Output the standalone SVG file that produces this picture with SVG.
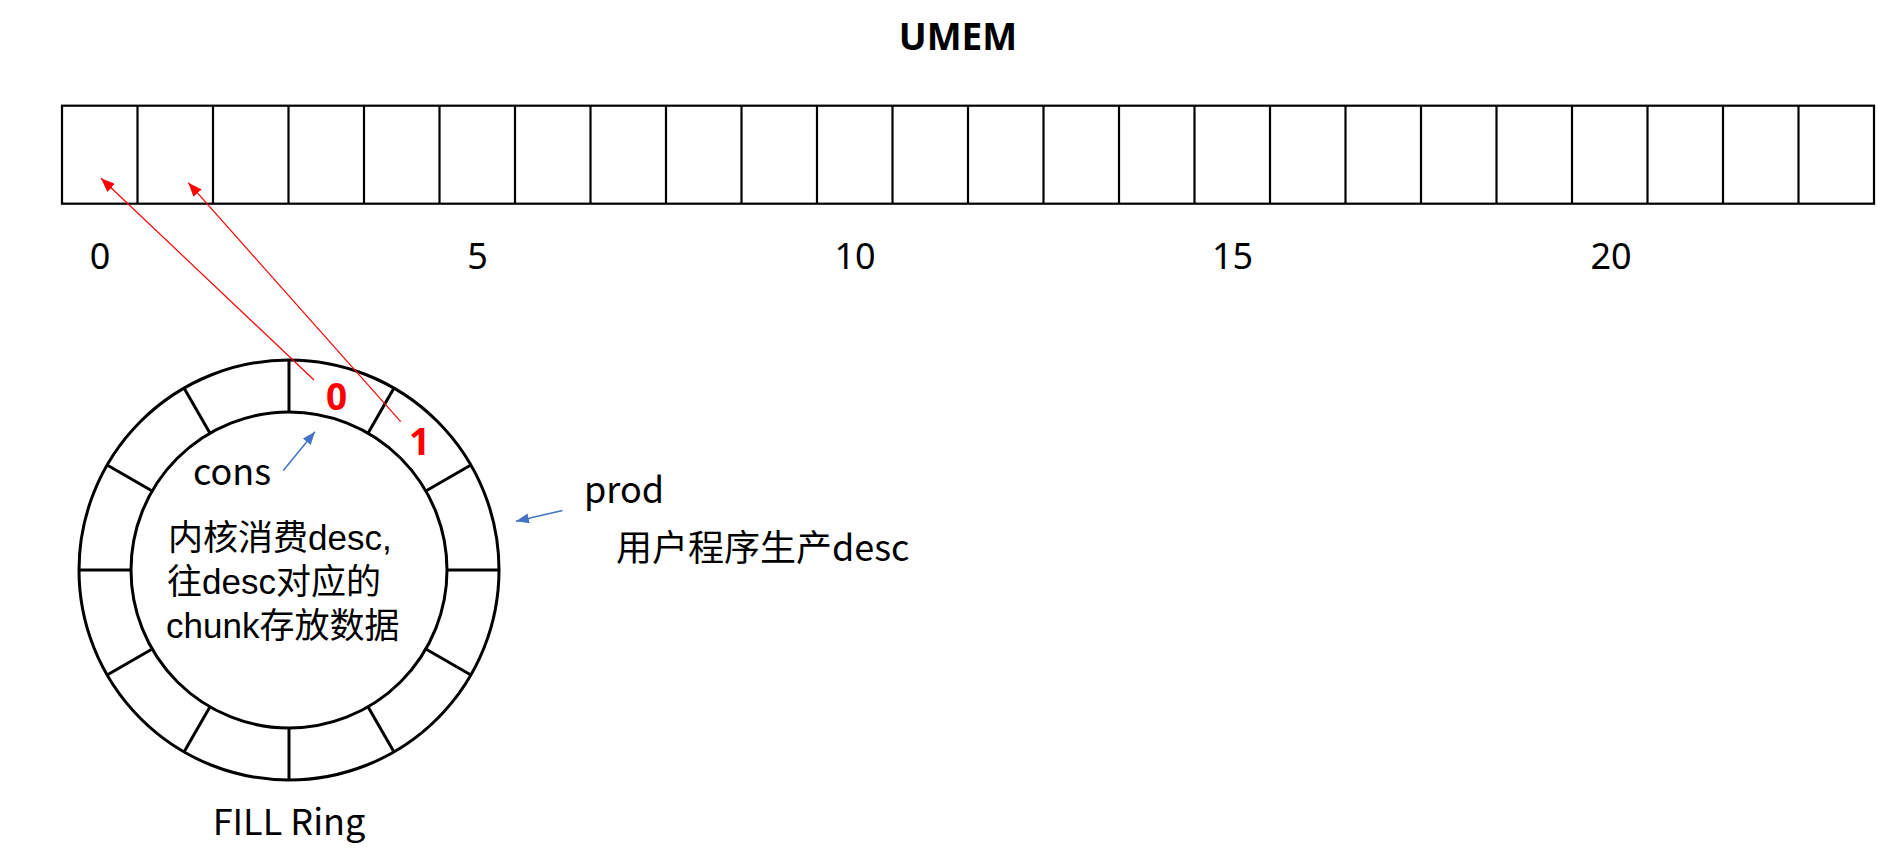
<svg xmlns="http://www.w3.org/2000/svg" width="1877" height="867" viewBox="0 0 1877 867">
<style>
  text { font-family: "Noto Sans", "Noto Sans CJK SC", sans-serif; fill: #000; }
  .cjk { font-family: "Noto Sans CJK SC", "Noto Sans", sans-serif; font-size: 36px; }
  .inner { font-family: "Liberation Sans", "Noto Sans CJK SC", sans-serif; font-size: 35px; }
  .idx { font-size: 36px; text-anchor: middle; }
  .title { font-size: 37px; font-weight: bold; text-anchor: middle; }
  .cell { fill: #fff; stroke: #000; stroke-width: 2.2; }
  .div { stroke: #000; stroke-width: 2.2; }
  .ring { fill: #fff; stroke: #000; stroke-width: 3; }
  .spoke { stroke: #000; stroke-width: 3; }
  .red { font-size: 37px; font-weight: bold; fill: #ff0000; text-anchor: middle; }
  .redline { stroke: #ff0000; stroke-width: 1.2; fill: none; }
  .blueline { stroke: #4472c4; stroke-width: 1.5; fill: none; }
</style>
<defs>
  <marker id="arrRed" markerUnits="userSpaceOnUse" markerWidth="15" markerHeight="11" refX="14" refY="5.5" orient="auto">
    <path d="M0,0 L14,5.5 L0,11 z" fill="#ff0000"/>
  </marker>
  <marker id="arrBlue" markerUnits="userSpaceOnUse" markerWidth="14" markerHeight="10" refX="13" refY="5" orient="auto">
    <path d="M0,0 L13,5 L0,10 z" fill="#4472c4"/>
  </marker>
</defs>
<rect width="1877" height="867" fill="#fff"/>

<g id="umem-title">
  <text class="title" x="958" y="50">UMEM</text>
</g>

<g id="umem">
  <rect class="cell" x="62" y="105.7" width="1812" height="98"/>
  <g class="div">
    <line x1="137.5" y1="105.7" x2="137.5" y2="203.7"/>
    <line x1="213" y1="105.7" x2="213" y2="203.7"/>
    <line x1="288.5" y1="105.7" x2="288.5" y2="203.7"/>
    <line x1="364" y1="105.7" x2="364" y2="203.7"/>
    <line x1="439.5" y1="105.7" x2="439.5" y2="203.7"/>
    <line x1="515" y1="105.7" x2="515" y2="203.7"/>
    <line x1="590.5" y1="105.7" x2="590.5" y2="203.7"/>
    <line x1="666" y1="105.7" x2="666" y2="203.7"/>
    <line x1="741.5" y1="105.7" x2="741.5" y2="203.7"/>
    <line x1="817" y1="105.7" x2="817" y2="203.7"/>
    <line x1="892.5" y1="105.7" x2="892.5" y2="203.7"/>
    <line x1="968" y1="105.7" x2="968" y2="203.7"/>
    <line x1="1043.5" y1="105.7" x2="1043.5" y2="203.7"/>
    <line x1="1119" y1="105.7" x2="1119" y2="203.7"/>
    <line x1="1194.5" y1="105.7" x2="1194.5" y2="203.7"/>
    <line x1="1270" y1="105.7" x2="1270" y2="203.7"/>
    <line x1="1345.5" y1="105.7" x2="1345.5" y2="203.7"/>
    <line x1="1421" y1="105.7" x2="1421" y2="203.7"/>
    <line x1="1496.5" y1="105.7" x2="1496.5" y2="203.7"/>
    <line x1="1572" y1="105.7" x2="1572" y2="203.7"/>
    <line x1="1647.5" y1="105.7" x2="1647.5" y2="203.7"/>
    <line x1="1723" y1="105.7" x2="1723" y2="203.7"/>
    <line x1="1798.5" y1="105.7" x2="1798.5" y2="203.7"/>
  </g>
</g>

<g id="umem-index">
  <text class="idx" x="100" y="269">0</text>
  <text class="idx" x="477.5" y="269">5</text>
  <text class="idx" x="855" y="269">10</text>
  <text class="idx" x="1232.5" y="269">15</text>
  <text class="idx" x="1611" y="269">20</text>
</g>

<g id="fill-ring">
  <circle class="ring" cx="289" cy="570" r="210"/>
  <circle class="ring" cx="289" cy="570" r="158"/>
  <g class="spoke">
    <line x1="289" y1="360" x2="289" y2="412"/>
    <line x1="394" y1="388.1" x2="368" y2="433.2"/>
    <line x1="470.9" y1="465" x2="425.8" y2="491"/>
    <line x1="499" y1="570" x2="447" y2="570"/>
    <line x1="470.9" y1="675" x2="425.8" y2="649"/>
    <line x1="394" y1="751.9" x2="368" y2="706.8"/>
    <line x1="289" y1="780" x2="289" y2="728"/>
    <line x1="184" y1="751.9" x2="210" y2="706.8"/>
    <line x1="107.1" y1="675" x2="152.2" y2="649"/>
    <line x1="79" y1="570" x2="131" y2="570"/>
    <line x1="107.1" y1="465" x2="152.2" y2="491"/>
    <line x1="184" y1="388.1" x2="210" y2="433.2"/>
  </g>
  <text class="inner"><tspan x="168" y="550">内核消费desc,</tspan><tspan x="167" y="594">往desc对应的</tspan><tspan x="166" y="638">chunk存放数据</tspan></text>
</g>

<g id="slot-0">
  <text class="red" x="336.5" y="409.5">0</text>
</g>
<g id="slot-1">
  <text class="red" x="419.5" y="454.5">1</text>
</g>

<g id="cons-label">
  <text class="cjk" x="193" y="485">cons</text>
</g>
<g id="prod-label">
  <text class="cjk" x="584" y="503">prod</text>
</g>
<g id="prod-desc">
  <text class="cjk" x="616" y="561">用户程序生产desc</text>
</g>
<g id="ring-caption">
  <text class="cjk" x="289" y="835" text-anchor="middle">FILL Ring</text>
</g>

<g id="connectors">
  <line class="redline" x1="314" y1="380" x2="101" y2="178.3" marker-end="url(#arrRed)"/>
  <line class="redline" x1="400.7" y1="421.7" x2="188.3" y2="182.7" marker-end="url(#arrRed)"/>
  <line class="blueline" x1="283.3" y1="470.5" x2="315" y2="431.7" marker-end="url(#arrBlue)"/>
  <line class="blueline" x1="562.5" y1="510.5" x2="516" y2="521.2" marker-end="url(#arrBlue)"/>
</g>
</svg>
